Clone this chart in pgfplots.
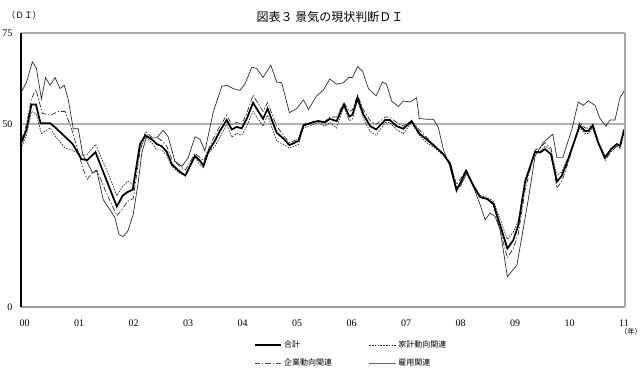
\documentclass[border=0pt]{standalone}
\usepackage{pgfplots}
\pgfplotsset{compat=1.18}
\usepackage{fontspec}
\setmainfont{Liberation Serif}
\newfontfamily\jp{Noto Sans CJK JP}
\begin{document}
\begin{tikzpicture}[x=0.75pt,y=0.75pt]
\useasboundingbox (0,0) rectangle (643,379);
\begin{axis}[
  at={(15.75pt,54pt)}, anchor=south west,
  scale only axis, width=453pt, height=205.5pt,
  xmin=-0.2, xmax=132.8, ymin=0, ymax=75,
  clip=false,
  axis line style={draw=none},
  major tick length=0pt,
  xtick={0,12,24,36,48,60,72,84,96,108,120,132},
  xticklabels={00,01,02,03,04,05,06,07,08,09,10,11},
  ytick={0,50,75}, yticklabels={0,50,75},
  tick label style={font=\fontsize{7.5pt}{8pt}\selectfont},
  xticklabel style={yshift=-6pt, xshift=2pt},
  yticklabel style={xshift=-3pt},
  legend columns=2,
  legend cell align=left,
  legend image code/.code={\draw[#1] (0pt,0pt) -- (20pt,0pt);},
  legend style={at={(rel axis cs:0.385,-0.115)}, anchor=north west, draw=none, fill=none,
    inner sep=0pt, font=\jp\fontsize{6pt}{7pt}\selectfont, row sep=4pt,
    /tikz/every even column/.append style={column sep=26pt},
    nodes={inner sep=1.5pt}},
]
\draw[gray!60, line width=1.4pt] (rel axis cs:0,{50/75}) -- (rel axis cs:1,{50/75});

% 雇用関連
\addplot[forget plot, black!85, line width=0.5pt] coordinates {
(0,59.1) (1.0,61.5) (2.3,67.1) (3.2,65.3) (4.3,56.9) (5.2,62.8) (6.2,60.7) (7.3,62.8) (8.4,59.8) (9.3,60.7) (10.2,56.9) (11.3,48.8) (12.4,48.8) (13.4,41.8) (14.4,39.5) (15.6,36.7) (16.5,37.2) (17.9,29.4) (19.4,26.6) (20.5,24.4) (21.4,19.8) (22.3,19.3) (23.3,20.7) (24.5,25.3) (25.6,34) (26.4,42.2) (27.5,46.8) (28.4,46.3) (29.7,46.3) (31.1,48.4) (32.2,46.6) (33.7,39.9) (35.2,38.5) (36.6,40.8) (38.1,46.6) (39.2,45.9) (40.3,42.7) (41,46.8) (42.1,53.2) (44,60.4) (45.1,60.7) (46.5,59.8) (48,59.3) (49.1,61) (50.6,65.6) (51.7,65.3) (53.1,62.8) (54.8,66.2) (56.1,61.6) (57.2,61.4) (58.9,53.2) (60.5,54.3) (62,56.7) (63.1,54.1) (64.9,57.8) (66.4,59.4) (67.8,62.4) (69.3,61) (70.8,61.4) (71.9,62.8) (72.8,62.8) (73.9,65.8) (75,64.6) (76.3,59.8) (78,57.8) (79.4,61.6) (80.3,61) (81.4,56.4) (82.9,54.9) (84,56.4) (85.5,56.1) (86.9,57.3) (87.5,51.6) (89.1,51.4) (90.6,51.4) (91.7,49.1) (92.8,43.1) (94.1,39) (95.4,33) (96.5,33) (98,36.7) (99.4,33) (100.9,28) (102,23.9) (103.1,25.7) (104.2,24.8) (105.3,21.2) (106.9,8.3) (109,11.5) (110.1,19.3) (111.5,29.4) (113,41.3) (114.8,45) (115.6,45.9) (116.9,47.3) (117.8,40.9) (119.1,40.9) (121.1,48.6) (122.5,56.1) (123.6,55.2) (124.7,56.4) (126.2,55.2) (127.3,51.6) (128.6,49.5) (129.5,51.2) (130.6,51.2) (131.7,57.3) (132.6,59.1)
};

% 企業動向関連
\addplot[forget plot, black!85, line width=0.5pt, dash pattern=on 4pt off 1.5pt on 1pt off 1.5pt] coordinates {
(0,46) (1,50) (2.1,57) (3.1,59.5) (4.5,53) (6.2,52.5) (8,53.5) (9.5,53.5) (11,48.5) (12.5,42) (13.4,38) (14.4,35) (15.6,37) (16.5,37.5) (18.5,31.5) (20.9,25) (22.2,27) (23.3,28.9) (24.5,29.7) (26,42.5) (27.2,48) (28.6,46.5) (29.7,46.5) (30.8,45.5) (31.9,44) (33,40.5) (34.8,38.5) (36,37.5) (38.1,42) (39.2,41) (40,40) (41,43) (42.5,47) (43.6,49.5) (45.1,52.5) (46.2,50) (47.3,50.5) (48.4,50) (49.5,53) (50.9,58) (53.1,53.5) (54.1,56) (56.1,49.5) (57.6,47) (58.9,45) (60.9,46) (62,50) (64.2,50.8) (65.3,51) (66.7,50.8) (67.8,52) (69.3,52) (70.9,56) (72.1,53.5) (72.8,54) (73.9,58) (75.2,54) (76.7,51) (78,50) (80,52) (81,52) (82.5,50.5) (84,49.5) (85.8,51) (87.5,48.5) (89.1,46.5) (91,44) (92.8,42) (94.3,39.5) (95.7,33.5) (96.8,35.5) (97.8,37.5) (99.4,33.5) (100.9,30) (102.4,29.5) (103.8,28) (105.3,21) (106.9,13.5) (108.2,16) (109.3,20) (110.8,32) (113,43) (114.1,43.5) (115.2,45) (116.5,43.5) (117.8,32.5) (118.9,34.5) (120.3,39.5) (121.8,46) (122.8,50.5) (124,49) (124.7,49) (125.7,50) (126.9,45.5) (128.4,40) (129.7,42.5) (131,44) (131.7,43.5) (132.6,48.5)
};

% 家計動向関連
\addplot[forget plot, black!85, line width=0.5pt, dash pattern=on 1.2pt off 0.9pt] coordinates {
(0,44) (1,47) (2.1,53.5) (3.1,53) (4.3,47.5) (6.2,49) (7.5,46.5) (9.5,43.5) (11,43) (12.5,42) (13.3,41.5) (14.4,41.8) (16.2,44.5) (18.5,38) (20.9,30.5) (22.2,33) (23.3,34.4) (24.5,33.6) (26,43) (27.2,46.5) (28.6,45) (29.7,43) (30.8,43) (31.9,41.5) (33,38.5) (34.8,36.5) (36,36) (38.1,41) (39.2,39) (40,38) (41,42) (42.5,44) (43.6,46.5) (45.1,50) (46.2,46.5) (47.3,47.5) (48.4,47) (49.5,49.5) (50.9,53.5) (53.1,49.5) (54.1,52.5) (56.1,45.5) (57.6,44.5) (58.9,43.5) (60.9,44.5) (62,49) (64.2,50) (65.3,50.5) (66.7,49.5) (67.8,50.5) (69.3,49) (70.9,55) (72.1,51) (72.8,51.5) (73.9,56.5) (75.2,51.5) (76.7,48) (78,47) (80,50.5) (81,50.5) (82.5,48.5) (84,47.5) (85.8,50.5) (87.5,47) (89.1,45) (91,43.5) (92.8,41.5) (94.3,39.5) (95.7,32.5) (96.8,34.5) (97.8,37) (99.4,33.5) (100.9,30.5) (102.4,30) (103.8,29) (105.3,24) (106.9,18.5) (108.2,20.5) (109.3,23.5) (110.8,35) (113,42.5) (114.1,42.5) (115.2,44) (116.5,43) (117.8,36) (118.9,37) (120.3,41) (121.8,45.5) (122.8,49) (124,47.5) (124.7,47.5) (125.7,49) (126.9,44.5) (128.4,40.5) (129.7,42.5) (131,44) (131.7,43.5) (132.6,47.5)
};

% 合計
\addplot[forget plot, black, line width=1.3pt] coordinates {
(0,45.2) (1,48.6) (2.1,55.4) (3.1,55.4) (4.1,50.3) (6.2,50.3) (7.3,49.2) (11.2,44.6) (13.1,40.5) (14.4,40.2) (16.2,42.4) (20.9,27.5) (22.2,30.5) (23.3,31.5) (24.4,32.1) (26,44.6) (27.2,47) (28.6,45.9) (29.7,44.6) (30.8,44) (31.9,42.5) (33,39.1) (34.8,37) (36,36) (38.1,41.4) (39.2,40) (40,38.7) (41,42.4) (42.5,45.5) (43.6,48.2) (45.1,51.2) (46.2,48.6) (47.3,49.3) (48.4,48.9) (49.5,51.5) (50.9,55.9) (53.1,51.5) (54.1,54.3) (56.1,47.7) (57.6,46.1) (58.9,44.3) (60.9,45.5) (62,49.7) (64.2,50.6) (65.3,50.9) (66.7,50.5) (67.8,51.5) (69.3,50.9) (70.9,55.4) (72.1,52.1) (72.8,52.7) (73.9,57.3) (75.2,52.7) (76.7,49.5) (78,48.6) (80,51.2) (81,51.2) (82.5,49.5) (84,48.8) (85.8,50.9) (87.5,47.5) (89.1,45.9) (91,43.9) (92.8,41.8) (94.3,39.1) (95.7,31.9) (96.8,34.6) (97.8,37.3) (99.4,33.2) (100.9,30.1) (102.4,29.6) (103.8,28.3) (105.3,22.4) (106.9,16) (108.2,18.3) (109.3,22.4) (110.8,34.2) (113,42.5) (114.1,42.3) (115.2,43.2) (116.5,41.8) (117.8,34.3) (118.9,36) (120.3,40.5) (121.8,45.9) (122.8,49.7) (124,48.2) (124.7,48.2) (125.7,49.7) (126.9,45) (128.4,40.9) (129.7,43.2) (131,44.6) (131.7,44.1) (132.6,48.6)
};

\addlegendimage{black, line width=1.3pt}
\addlegendentry{合計}
\addlegendimage{black!85, line width=0.5pt, dash pattern=on 1.2pt off 0.9pt}
\addlegendentry{家計動向関連}
\addlegendimage{black!70, line width=0.5pt, dash pattern=on 4pt off 1.5pt on 1pt off 1.5pt}
\addlegendentry{企業動向関連}
\addlegendimage{black!60, line width=0.6pt}
\addlegendentry{雇用関連}

\draw[gray!75, line width=1.5pt] (rel axis cs:0,0) -- (rel axis cs:1,0);
\draw[gray!65, line width=1.4pt] (rel axis cs:0,1) -- (rel axis cs:1,1);
\draw[gray!70, line width=0.8pt] (rel axis cs:1,0) -- (rel axis cs:1,1);
\draw[black, line width=1.1pt] (rel axis cs:0,0) -- (rel axis cs:0,1);
\end{axis}
\node[font=\jp\fontsize{9pt}{10pt}\selectfont] at (330,362) {図表３\ 景気の現状判断ＤＩ};
\node[font=\jp\fontsize{6.5pt}{7pt}\selectfont, anchor=west] at (2,364) {（ＤＩ）};
\node[font=\jp\fontsize{5.5pt}{6pt}\selectfont] at (631,47) {（年）};
\end{tikzpicture}
\end{document}
